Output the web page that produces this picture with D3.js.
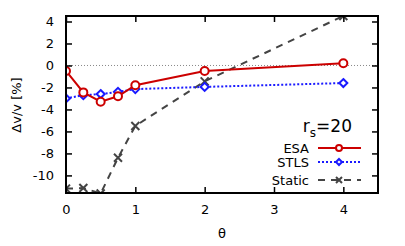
<!DOCTYPE html>
<html>
<head>
<meta charset="utf-8">
<script src="https://cdn.jsdelivr.net/npm/d3@7"></script>
<style>
  body { margin: 0; background: white; }
  text { font-family: "DejaVu Sans", sans-serif; fill: #000; }
</style>
</head>
<body>
<div id="chart"></div>
<script>
// data
var theta = [0, 0.25, 0.5, 0.75, 1, 2, 4];
var esa = [-0.5, -2.45, -3.3, -2.8, -1.8, -0.5, 0.2];
var stls = [-3.0, -2.7, -2.6, -2.4, -2.15, -1.95, -1.6];
var stat = [-11.2, -11.15, -11.65, -8.4, -5.5, -1.45, 4.5];
var xTicks = [0, 1, 2, 3, 4];
var yTicks = [-10, -8, -6, -4, -2, 0, 2, 4];

var W = 405, H = 246;
var pLeft = 66, pRight = 378, pTop = 16, pBottom = 193;

var svg = d3.select("#chart").append("svg")
  .attr("width", W)
  .attr("height", H);

var x = d3.scaleLinear().domain([0, 4.5]).range([pLeft, pRight]);
var y = d3.scaleLinear().domain([-11.6, 4.5]).range([pBottom, pTop]);

svg.append("clipPath").attr("id", "clip")
  .append("rect")
  .attr("x", pLeft).attr("y", pTop)
  .attr("width", pRight - pLeft).attr("height", pBottom - pTop);

// zero line
svg.append("line")
  .attr("x1", pLeft).attr("x2", pRight)
  .attr("y1", y(0)).attr("y2", y(0))
  .attr("stroke", "#888")
  .attr("stroke-width", 1)
  .attr("stroke-dasharray", "1,2");

var plot = svg.append("g").attr("clip-path", "url(#clip)");

var series = [
  {name: "ESA", vals: esa, color: "#cc0000", dash: null, marker: "circle"},
  {name: "STLS", vals: stls, color: "#1a1aff", dash: "2,2", marker: "diamond"},
  {name: "Static", vals: stat, color: "#444444", dash: "7,6", marker: "cross"}
];

function drawMarker(g, type, cx, cy, color, r) {
  if (type == "circle") {
    g.append("circle").attr("cx", cx).attr("cy", cy).attr("r", r)
      .attr("fill", "white").attr("stroke", color).attr("stroke-width", 2);
  } else if (type == "diamond") {
    g.append("path")
      .attr("d", "M" + cx + "," + (cy - r) + "L" + (cx + r) + "," + cy + "L" + cx + "," + (cy + r) + "L" + (cx - r) + "," + cy + "Z")
      .attr("fill", "white").attr("stroke", color).attr("stroke-width", 2);
  } else {
    g.append("path")
      .attr("d", "M" + (cx - r) + "," + (cy - r) + "L" + (cx + r) + "," + (cy + r) + "M" + (cx - r) + "," + (cy + r) + "L" + (cx + r) + "," + (cy - r))
      .attr("fill", "none").attr("stroke", color).attr("stroke-width", 2);
  }
}

var line = d3.line()
  .x(function(d) { return x(d[0]); })
  .y(function(d) { return y(d[1]); });

// draw static first so the others sit on top
series.slice().reverse().forEach(function(s) {
  var pts = theta.map(function(t, i) { return [t, s.vals[i]]; });
  plot.append("path")
    .datum(pts)
    .attr("d", line)
    .attr("fill", "none")
    .attr("stroke", s.color)
    .attr("stroke-width", 2)
    .attr("stroke-dasharray", s.dash);
  pts.forEach(function(p) {
    drawMarker(plot, s.marker, x(p[0]), y(p[1]), s.color, 4);
  });
});

// plain hyphen minus like gnuplot
var fmt = function(d) { return String(d); };

// axes, gnuplot style: inward ticks mirrored on all sides
svg.append("g")
  .attr("transform", "translate(0," + pBottom + ")")
  .call(d3.axisBottom(x).tickValues(xTicks).tickSize(-6).tickPadding(12).tickFormat(fmt));
svg.append("g")
  .attr("transform", "translate(0," + pTop + ")")
  .call(d3.axisTop(x).tickValues(xTicks).tickSize(-6).tickFormat(""));
svg.append("g")
  .attr("transform", "translate(" + pLeft + ",0)")
  .call(d3.axisLeft(y).tickValues(yTicks).tickSize(-6).tickPadding(12).tickFormat(fmt));
svg.append("g")
  .attr("transform", "translate(" + pRight + ",0)")
  .call(d3.axisRight(y).tickValues(yTicks).tickSize(-6).tickFormat(""));

svg.selectAll(".domain").remove();
svg.selectAll(".tick line").attr("stroke", "#000").attr("stroke-width", 1.5);
svg.selectAll(".tick text")
  .style("font-family", "DejaVu Sans")
  .style("font-size", "13px");

svg.append("rect")
  .attr("x", pLeft).attr("y", pTop)
  .attr("width", pRight - pLeft).attr("height", pBottom - pTop)
  .attr("fill", "none")
  .attr("stroke", "#000")
  .attr("stroke-width", 2);

// axis labels
svg.append("text")
  .attr("x", 222).attr("y", 238)
  .attr("text-anchor", "middle")
  .style("font-size", "13px")
  .text("θ");
svg.append("text")
  .attr("transform", "translate(21," + 105 + ") rotate(-90)")
  .attr("text-anchor", "middle")
  .style("font-size", "13px")
  .text("Δv/v [%]");

// r_s label
var rs = svg.append("text")
  .attr("x", 352).attr("y", 132)
  .attr("text-anchor", "end")
  .style("font-size", "17px");
rs.append("tspan").text("r");
rs.append("tspan").attr("dy", 5).style("font-size", "12px").text("s");
rs.append("tspan").attr("dy", -5).text("=20");

// legend
var legY = [148, 162, 180];
series.forEach(function(s, i) {
  var ly = legY[i];
  svg.append("text")
    .attr("x", 309).attr("y", ly + 5)
    .attr("text-anchor", "end")
    .style("font-size", "13px")
    .text(s.name);
  svg.append("line")
    .attr("x1", 318).attr("x2", 361)
    .attr("y1", ly).attr("y2", ly)
    .attr("stroke", s.color)
    .attr("stroke-width", 2)
    .attr("stroke-dasharray", s.dash);
  drawMarker(svg, s.marker, 339, ly, s.color, 3);
});
</script>
</body>
</html>
